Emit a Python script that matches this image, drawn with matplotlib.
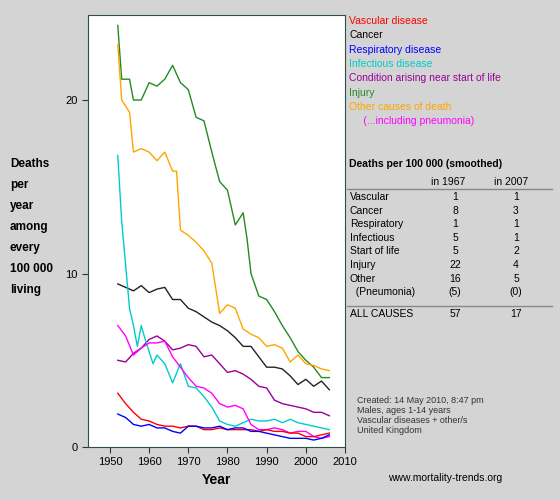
import matplotlib
matplotlib.use("Agg")
import matplotlib.pyplot as plt

plt.rcParams['font.family'] = ['Liberation Sans', 'DejaVu Sans']

inj_years = [1952,1953,1955,1956,1958,1960,1962,1964,1966,1968,1970,1972,1974,1976,1978,1980,1982,1984,1985,1986,1988,1990,1992,1994,1996,1998,2000,2002,2004,2006]
injury = [24.3,21.2,21.2,20,20,21,20.8,21.2,22,21,20.6,19,18.8,17,15.3,14.8,12.8,13.5,12,10,8.7,8.5,7.8,7,6.3,5.5,5,4.6,4,4]
oth_years = [1952,1953,1955,1956,1958,1960,1962,1964,1966,1967,1968,1970,1972,1974,1976,1978,1980,1982,1984,1986,1988,1990,1992,1994,1996,1998,2000,2002,2004,2006]
other = [23.2,20,19.3,17,17.2,17,16.5,17,15.9,15.9,12.5,12.2,11.8,11.3,10.6,7.7,8.2,8,6.8,6.5,6.3,5.8,5.9,5.7,4.9,5.3,4.8,4.7,4.5,4.4]
years = list(range(1952, 2007, 2))
cancer = [9.4,9.2,9.0,9.3,8.9,9.1,9.2,8.5,8.5,8.0,7.8,7.5,7.2,7.0,6.7,6.3,5.8,5.8,5.2,4.6,4.6,4.5,4.1,3.6,3.9,3.5,3.8,3.3]
start_life = [5.0,4.9,5.4,5.7,6.2,6.4,6.1,5.6,5.7,5.9,5.8,5.2,5.3,4.8,4.3,4.4,4.2,3.9,3.5,3.4,2.7,2.5,2.4,2.3,2.2,2.0,2.0,1.8]
inf_years = [1952,1953,1954,1955,1956,1957,1958,1959,1960,1961,1962,1964,1966,1968,1970,1972,1974,1976,1978,1980,1982,1984,1986,1988,1990,1992,1994,1996,1998,2000,2002,2004,2006]
infectious = [16.8,13,10.5,8,7,5.8,7,6.2,5.5,4.8,5.3,4.8,3.7,4.8,3.5,3.4,2.9,2.3,1.5,1.3,1.2,1.4,1.6,1.5,1.5,1.6,1.4,1.6,1.4,1.3,1.2,1.1,1.0]
pneumonia = [7.0,6.4,5.3,5.7,6.0,6.0,6.1,5.2,4.6,4.0,3.5,3.4,3.1,2.5,2.3,2.4,2.2,1.3,1.0,1.0,1.1,1.0,0.8,0.9,0.9,0.6,0.5,0.6]
vascular = [3.1,2.5,2.0,1.6,1.5,1.3,1.2,1.2,1.1,1.2,1.2,1.0,1.0,1.1,1.0,1.0,1.0,1.0,0.9,1.0,0.9,0.9,0.8,0.8,0.6,0.6,0.7,0.8]
respiratory = [1.9,1.7,1.3,1.2,1.3,1.1,1.1,0.9,0.8,1.2,1.2,1.1,1.1,1.2,1.0,1.1,1.1,0.9,0.9,0.8,0.7,0.6,0.5,0.5,0.5,0.4,0.5,0.7]

legend_labels = ["Vascular disease","Cancer","Respiratory disease","Infectious disease",
                 "Condition arising near start of life","Injury","Other causes of death","     (...including pneumonia)"]
legend_colors = ["#ff0000","#000000","#0000ff","#00cccc","#990099","#228b22","#ffa500","#ff00ff"]

table_rows = ["Vascular","Cancer","Respiratory","Infectious","Start of life","Injury","Other","  (Pneumonia)"]
v1967 = ["1","8","1","5","5","22","16","(5)"]
v2007 = ["1","3","1","1","2","4","5","(0)"]

bg = "#d4d4d4"
fig = plt.figure(figsize=(5.6, 5.0), dpi=100, facecolor=bg)
ax = fig.add_axes([88/560, 53/500, 257/560, 432/500])
ax.set_facecolor("white")
lw = 1.0
ax.plot(inj_years, injury, color="#228b22", lw=lw)
ax.plot(oth_years, other, color="#ffa500", lw=lw)
ax.plot(years, cancer, color="#222222", lw=lw)
ax.plot(years, start_life, color="#990099", lw=lw)
ax.plot(inf_years, infectious, color="#00cccc", lw=lw)
ax.plot(years, pneumonia, color="#ff00ff", lw=lw)
ax.plot(years, vascular, color="#ff0000", lw=lw)
ax.plot(years, respiratory, color="#0000ff", lw=lw)
ax.set_xlim(1944.4, 2010)
ax.set_ylim(0, 24.9)
ax.set_xticks([1950,1960,1970,1980,1990,2000,2010])
ax.set_yticks([0,10,20])
ax.tick_params(labelsize=8, length=4, color="#333333")
for s in ax.spines.values():
    s.set_color("#2f4f4f")
ax.set_xlabel("Year", fontsize=10, fontweight="bold")

fig.text(10/560, 1-158/500, "Deaths\nper\nyear\namong\nevery\n100 000\nliving",
         fontsize=8.5, fontweight="bold", va="top", ha="left", linespacing=2.0)

for i, (lab, c) in enumerate(zip(legend_labels, legend_colors)):
    fig.text(349/560, 1-(21+14.3*i)/500, lab, color=c, fontsize=7.5, va="center")

fig.text(349/560, 1-164/500, "Deaths per 100 000 (smoothed)", fontsize=7.5, fontweight="bold", va="center")
fig.text(448/560, 1-182/500, "in 1967", fontsize=7.5, ha="center", va="center")
fig.text(511/560, 1-182/500, "in 2007", fontsize=7.5, ha="center", va="center")
fig.add_artist(plt.Line2D([347/560, 552/560], [1-189/500]*2, color="#888888", lw=1))
for i, (r, a, b) in enumerate(zip(table_rows, v1967, v2007)):
    y = 1-(197+13.6*i)/500
    fig.text(350/560, y, r, fontsize=7.5, va="center")
    fig.text(455/560, y, a, fontsize=7.5, ha="center", va="center")
    fig.text(516/560, y, b, fontsize=7.5, ha="center", va="center")
fig.add_artist(plt.Line2D([347/560, 552/560], [1-306/500]*2, color="#888888", lw=1))
fig.text(350/560, 1-314/500, "ALL CAUSES", fontsize=7.5, va="center")
fig.text(455/560, 1-314/500, "57", fontsize=7.5, ha="center", va="center")
fig.text(516/560, 1-314/500, "17", fontsize=7.5, ha="center", va="center")

fig.text(357/560, 1-396/500, "Created: 14 May 2010, 8:47 pm\nMales, ages 1-14 years\nVascular diseases + other/s\nUnited Kingdom",
         fontsize=6.5, color="#333333", va="top", linespacing=1.15)
fig.text(388/560, 1-478/500, "www.mortality-trends.org", fontsize=7.5, va="center")

fig.savefig("out.png", dpi=100, facecolor=bg)
